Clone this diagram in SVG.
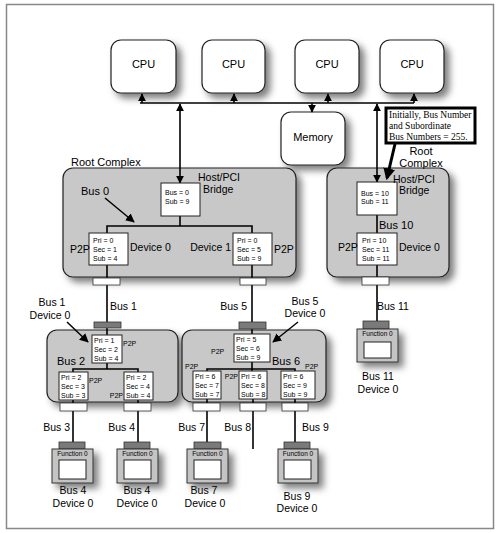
<svg xmlns="http://www.w3.org/2000/svg" width="500" height="533" viewBox="0 0 500 533">
<defs>
<filter id="sh" x="-20%" y="-20%" width="160%" height="160%">
<feDropShadow dx="5" dy="5" stdDeviation="3.5" flood-color="#000" flood-opacity="0.5"/>
</filter>
<marker id="ah" viewBox="0 0 10 10" refX="9" refY="5" markerWidth="8" markerHeight="8" markerUnits="userSpaceOnUse" orient="auto-start-reverse">
<path d="M0,0 L10,5 L0,10 z" fill="#000"/>
</marker>
<marker id="bigah" viewBox="0 0 10 10" refX="8" refY="5" markerWidth="12" markerHeight="12" markerUnits="userSpaceOnUse" orient="auto">
<path d="M0,0 L10,5 L0,10 z" fill="#000"/>
</marker>
<marker id="ah2" viewBox="0 0 10 10" refX="9" refY="5" markerWidth="9" markerHeight="9" markerUnits="userSpaceOnUse" orient="auto">
<path d="M0,0 L10,5 L0,10 z" fill="#000"/>
</marker>
</defs>
<style>
text{font-family:"Liberation Sans",Arial,sans-serif;fill:#000}
.cpu{fill:#fff;stroke:#222;stroke-width:1.2}
.cx{fill:#c8c8c8;stroke:#222;stroke-width:1.2}
.bx{fill:#fff;stroke:#222;stroke-width:1}
.cn{fill:#fff;stroke:#333;stroke-width:0.8}
.dk{fill:#7a7a7a;stroke:#333;stroke-width:0.8}
.card{fill:#c4c4c4;stroke:#333;stroke-width:1}
.ln{stroke:#000;stroke-width:1.6;fill:none}
.t11{font-size:11px}
.t10{font-size:10.5px}
.t7{font-size:7px}
.t6{font-size:6.5px}
.ser{font-family:"Liberation Serif","Times New Roman",serif;font-size:9.5px;fill:#000}
</style>
<rect x="6.5" y="4.5" width="487" height="524" fill="#fff" stroke="#888" stroke-width="1.5"/>

<g id="cpu1"><rect class="cpu" filter="url(#sh)" x="111" y="40" width="65" height="53" rx="10"/><text class="t11" x="143.5" y="68" text-anchor="middle">CPU</text></g>
<g id="cpu2"><rect class="cpu" filter="url(#sh)" x="202" y="40" width="63" height="53" rx="10"/><text class="t11" x="233.5" y="68" text-anchor="middle">CPU</text></g>
<g id="cpu3"><rect class="cpu" filter="url(#sh)" x="295" y="40" width="64" height="53" rx="10"/><text class="t11" x="327" y="68" text-anchor="middle">CPU</text></g>
<g id="cpu4"><rect class="cpu" filter="url(#sh)" x="380" y="40" width="64" height="53" rx="10"/><text class="t11" x="412" y="68" text-anchor="middle">CPU</text></g>
<g id="memory"><rect class="cpu" filter="url(#sh)" x="281" y="112" width="64" height="53" rx="10"/><text class="t11" x="313" y="141" text-anchor="middle">Memory</text></g>

<g id="rootcomplex-left">
<rect class="cx" filter="url(#sh)" x="63" y="168" width="233" height="109" rx="10"/>
<text class="t11" x="71" y="166">Root Complex</text>
</g>
<g id="rootcomplex-right">
<rect class="cx" filter="url(#sh)" x="327" y="168" width="122" height="109" rx="10"/>
<text class="t11" x="421" y="155" text-anchor="middle">Root</text>
<text class="t11" x="421" y="167" text-anchor="middle">Complex</text>
</g>
<g id="bus2complex"><rect class="cx" filter="url(#sh)" x="47" y="330" width="131" height="72" rx="10"/></g>
<g id="bus6complex"><rect class="cx" filter="url(#sh)" x="182" y="330" width="144" height="72" rx="10"/></g>

<g id="connectors">
<line class="ln" x1="140" y1="103" x2="414" y2="103"/>
<line class="ln" x1="142" y1="103" x2="142" y2="94" marker-end="url(#ah)"/>
<line class="ln" x1="234" y1="103" x2="234" y2="94" marker-end="url(#ah)"/>
<line class="ln" x1="328" y1="103" x2="328" y2="94" marker-end="url(#ah)"/>
<line class="ln" x1="414" y1="103" x2="414" y2="94" marker-end="url(#ah)"/>
<line class="ln" x1="312" y1="103" x2="312" y2="112" marker-end="url(#ah)"/>
<line class="ln" x1="180" y1="104" x2="180" y2="183" marker-start="url(#ah)" marker-end="url(#ah)"/>
<line class="ln" x1="377" y1="104" x2="377" y2="182" marker-start="url(#ah)" marker-end="url(#ah)"/>
<line x1="395" y1="144" x2="387" y2="178" stroke="#000" stroke-width="3" marker-end="url(#bigah)"/>
<line x1="105" y1="198" x2="134" y2="222" stroke="#000" stroke-width="1.5" marker-end="url(#ah2)"/>
<line x1="67" y1="322" x2="88" y2="342" stroke="#000" stroke-width="1.5" marker-end="url(#ah2)"/>
<line x1="298" y1="322" x2="273" y2="342" stroke="#000" stroke-width="1.5" marker-end="url(#ah2)"/>
<polyline class="ln" points="180,216 180,226"/>
<polyline class="ln" points="107,233 107,226 252,226 252,233"/>
<line class="ln" x1="107" y1="265" x2="107" y2="322"/>
<line class="ln" x1="252" y1="265" x2="252" y2="322"/>
<line class="ln" x1="377" y1="215" x2="377" y2="233"/>
<line class="ln" x1="377" y1="265" x2="377" y2="321"/>
<line class="ln" x1="107" y1="328" x2="107" y2="335"/>
<polyline class="ln" points="107,363 107,369"/>
<polyline class="ln" points="73,372 73,369 138,369 138,372"/>
<line class="ln" x1="73" y1="400" x2="73" y2="442"/>
<line class="ln" x1="138" y1="400" x2="138" y2="442"/>
<line class="ln" x1="252" y1="329" x2="252" y2="334"/>
<polyline class="ln" points="252,362 252,371"/>
<polyline class="ln" points="207,371 207,369 295,369 295,371"/>
<line class="ln" x1="207" y1="399" x2="207" y2="442"/>
<line class="ln" x1="253" y1="399" x2="253" y2="449"/>
<line class="ln" x1="295" y1="399" x2="295" y2="442"/>
</g>

<g id="note">
<rect x="386" y="108" width="89" height="35" fill="#fff" stroke="#000" stroke-width="3"/>
<text class="ser" x="389" y="118">Initially, Bus Number</text>
<text class="ser" x="389" y="129">and Subordinate</text>
<text class="ser" x="389" y="140">Bus Numbers = 255.</text>
</g>

<g id="hostbridge-left">
<rect class="bx" x="161" y="183" width="39" height="33"/>
<text class="t7" x="165" y="195">Bus = 0</text><text class="t7" x="165" y="204">Sub = 9</text>
<text class="t10" x="198" y="181">Host/PCI</text><text class="t10" x="203" y="193">Bridge</text>
<text class="t11" x="81" y="195">Bus 0</text>
</g>
<g id="p2p-dev0">
<rect class="bx" x="89" y="233" width="39" height="32"/>
<text class="t7" x="93" y="243">Pri = 0</text><text class="t7" x="93" y="252">Sec = 1</text><text class="t7" x="93" y="261">Sub = 4</text>
<text class="t10" x="70" y="253">P2P</text><text class="t10" x="130" y="251">Device 0</text>
<rect class="cn" x="93" y="278" width="27" height="7"/>
</g>
<g id="p2p-dev1">
<rect class="bx" x="233" y="233" width="39" height="32"/>
<text class="t7" x="237" y="243">Pri = 0</text><text class="t7" x="237" y="252">Sec = 5</text><text class="t7" x="237" y="261">Sub = 9</text>
<text class="t10" x="274" y="253">P2P</text><text class="t10" x="231" y="251" text-anchor="end">Device 1</text>
<rect class="cn" x="240" y="278" width="26" height="7"/>
</g>

<g id="hostbridge-right">
<rect class="bx" x="357" y="182" width="40" height="33"/>
<text class="t7" x="361" y="196">Bus = 10</text><text class="t7" x="361" y="204">Sub = 11</text>
<text class="t10" x="393" y="183">Host/PCI</text><text class="t10" x="399" y="194">Bridge</text>
<text class="t11" x="379" y="229">Bus 10</text>
</g>
<g id="p2p-right">
<rect class="bx" x="357" y="233" width="40" height="32"/>
<text class="t7" x="362" y="243">Pri = 10</text><text class="t7" x="362" y="252">Sec = 11</text><text class="t7" x="362" y="261">Sub = 11</text>
<text class="t10" x="338" y="251">P2P</text><text class="t10" x="399" y="251">Device 0</text>
<rect class="cn" x="362" y="277" width="27" height="8"/>
</g>

<g id="bus1-labels">
<text class="t10" x="110" y="310">Bus 1</text>
<text class="t10" x="52" y="306" text-anchor="middle">Bus 1</text>
<text class="t10" x="50" y="319" text-anchor="middle">Device 0</text>
<text class="t10" x="247" y="310" text-anchor="end">Bus 5</text>
<text class="t10" x="305" y="305" text-anchor="middle">Bus 5</text>
<text class="t10" x="305" y="317" text-anchor="middle">Device 0</text>
<text class="t10" x="377" y="310">Bus 11</text>
</g>

<g id="p2p-bus1">
<rect class="dk" x="94" y="322" width="27" height="6"/>
<rect class="bx" x="92" y="335" width="30" height="28"/>
<text class="t7" x="94" y="343">Pri = 1</text><text class="t7" x="94" y="352">Sec = 2</text><text class="t7" x="94" y="361">Sub = 4</text>
<text class="t7" x="123" y="346">P2P</text>
<text class="t11" x="57" y="365">Bus 2</text>
</g>
<g id="p2p-bus2-a">
<rect class="bx" x="59" y="372" width="29" height="28"/>
<text class="t7" x="61" y="380">Pri = 2</text><text class="t7" x="61" y="389">Sec = 3</text><text class="t7" x="61" y="398">Sub = 3</text>
<text class="t7" x="89" y="383">P2P</text>
<rect class="cn" x="60" y="403" width="27" height="8"/>
</g>
<g id="p2p-bus2-b">
<rect class="bx" x="124" y="372" width="29" height="28"/>
<text class="t7" x="126" y="380">Pri = 2</text><text class="t7" x="126" y="389">Sec = 4</text><text class="t7" x="126" y="398">Sub = 4</text>
<text class="t7" x="123" y="398" text-anchor="end">P2P</text>
<rect class="cn" x="124" y="403" width="27" height="8"/>
</g>

<g id="p2p-bus5">
<rect class="dk" x="239" y="322" width="27" height="7"/>
<rect class="bx" x="234" y="334" width="36" height="28"/>
<text class="t7" x="236" y="342">Pri = 5</text><text class="t7" x="236" y="351">Sec = 6</text><text class="t7" x="236" y="360">Sub = 9</text>
<text class="t7" x="211" y="354">P2P</text>
<text class="t11" x="272" y="365">Bus 6</text>
</g>
<g id="p2p-bus6-a">
<rect class="bx" x="193" y="371" width="28" height="28"/>
<text class="t7" x="195" y="379">Pri = 6</text><text class="t7" x="195" y="388">Sec = 7</text><text class="t7" x="195" y="397">Sub = 7</text>
<text class="t7" x="185" y="369">P2P</text>
<rect class="cn" x="193" y="403" width="27" height="8"/>
</g>
<g id="p2p-bus6-b">
<rect class="bx" x="239" y="371" width="28" height="28"/>
<text class="t7" x="241" y="379">Pri = 6</text><text class="t7" x="241" y="388">Sec = 8</text><text class="t7" x="241" y="397">Sub = 8</text>
<text class="t7" x="238" y="379" text-anchor="end">P2P</text>
<rect class="cn" x="240" y="403" width="26" height="8"/>
</g>
<g id="p2p-bus6-c">
<rect class="bx" x="281" y="371" width="34" height="28"/>
<text class="t7" x="283" y="379">Pri = 6</text><text class="t7" x="283" y="388">Sec = 9</text><text class="t7" x="283" y="397">Sub = 9</text>
<text class="t7" x="305" y="369">P2P</text>
<rect class="cn" x="282" y="403" width="26" height="8"/>
</g>

<g id="bus-labels-low">
<text class="t10" x="70" y="431" text-anchor="end">Bus 3</text>
<text class="t10" x="135" y="431" text-anchor="end">Bus 4</text>
<text class="t10" x="205" y="431" text-anchor="end">Bus 7</text>
<text class="t10" x="251" y="431" text-anchor="end">Bus 8</text>
<text class="t10" x="302" y="431">Bus 9</text>
</g>

<g id="dev-bus3">
<rect class="dk" x="59" y="442" width="26" height="7"/>
<rect class="card" filter="url(#sh)" x="52" y="449" width="41" height="34"/>
<text class="t6" x="72.5" y="456" text-anchor="middle">Function 0</text>
<rect class="bx" x="59" y="460" width="27" height="19"/>
<text class="t10" x="73" y="494" text-anchor="middle">Bus 4</text>
<text class="t10" x="73" y="507" text-anchor="middle">Device 0</text>
</g>
<g id="dev-bus4">
<rect class="dk" x="124" y="442" width="26" height="7"/>
<rect class="card" filter="url(#sh)" x="117" y="449" width="41" height="34"/>
<text class="t6" x="137.5" y="456" text-anchor="middle">Function 0</text>
<rect class="bx" x="124" y="460" width="27" height="19"/>
<text class="t10" x="137" y="494" text-anchor="middle">Bus 4</text>
<text class="t10" x="137" y="507" text-anchor="middle">Device 0</text>
</g>
<g id="dev-bus7">
<rect class="dk" x="194" y="442" width="27" height="7"/>
<rect class="card" filter="url(#sh)" x="187" y="449" width="41" height="34"/>
<text class="t6" x="207.5" y="456" text-anchor="middle">Function 0</text>
<rect class="bx" x="194" y="460" width="27" height="19"/>
<text class="t10" x="204" y="494" text-anchor="middle">Bus 7</text>
<text class="t10" x="205" y="507" text-anchor="middle">Device 0</text>
</g>
<g id="dev-bus9">
<rect class="dk" x="284" y="442" width="26" height="7"/>
<rect class="card" filter="url(#sh)" x="278" y="449" width="40" height="34"/>
<text class="t6" x="298" y="456" text-anchor="middle">Function 0</text>
<rect class="bx" x="284" y="460" width="27" height="19"/>
<text class="t10" x="297" y="500" text-anchor="middle">Bus 9</text>
<text class="t10" x="297" y="512" text-anchor="middle">Device 0</text>
</g>
<g id="dev-bus11">
<rect class="dk" x="363" y="321" width="26" height="8"/>
<rect class="card" filter="url(#sh)" x="357" y="329" width="41" height="33"/>
<text class="t6" x="377.5" y="336" text-anchor="middle">Function 0</text>
<rect class="bx" x="364" y="342" width="27" height="16"/>
<text class="t10" x="378" y="380" text-anchor="middle">Bus 11</text>
<text class="t10" x="378" y="393" text-anchor="middle">Device 0</text>
</g>
</svg>
